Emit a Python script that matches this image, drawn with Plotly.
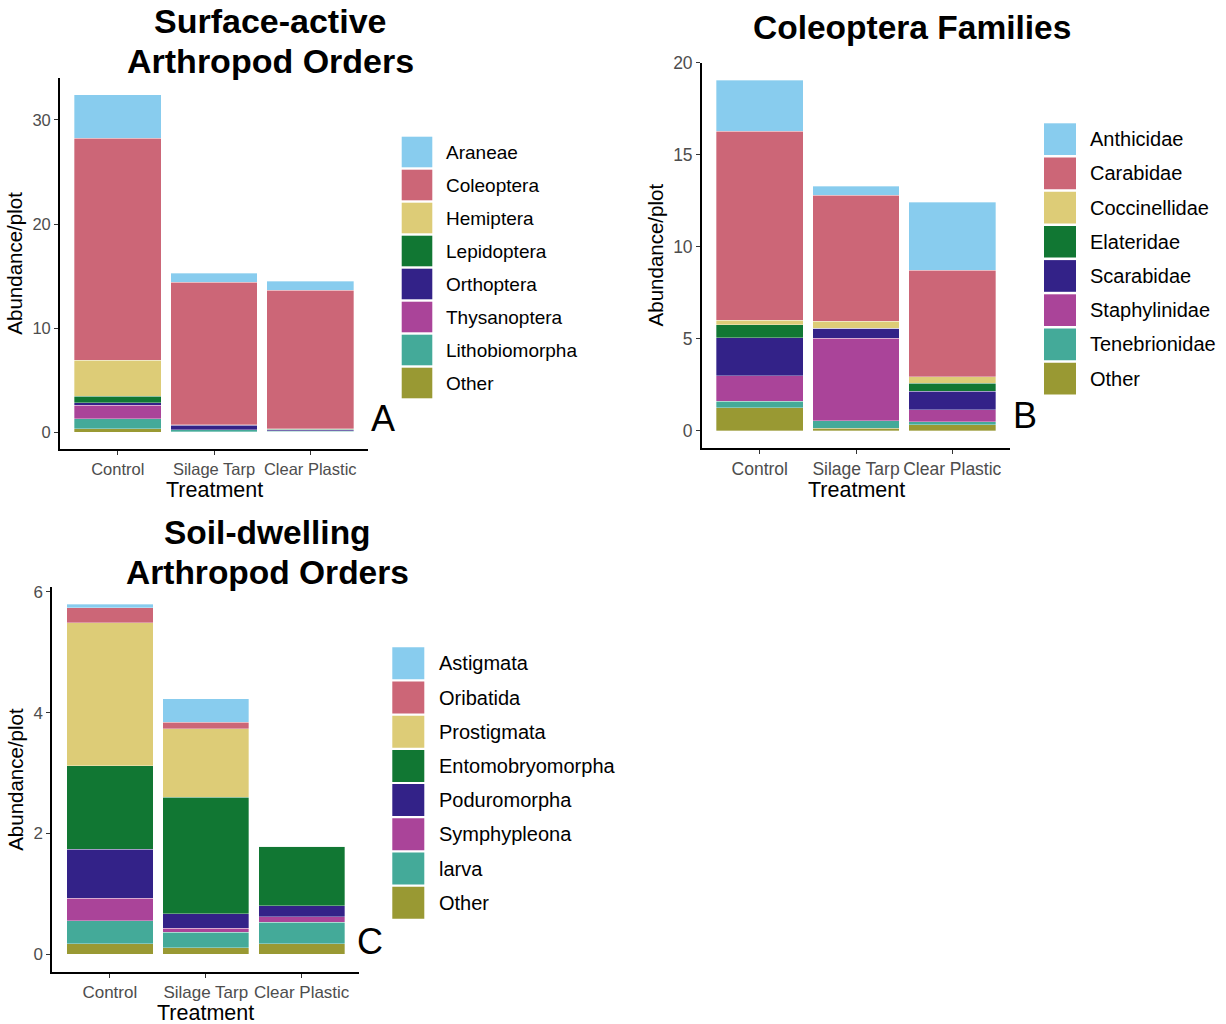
import plotly.graph_objects as go

W, H = 1226, 1024

treatments = ["Control", "Silage Tarp", "Clear Plastic"]

# Tol "muted" palette, shared by the three panels (top of stack first)
palette = ["#88CCEE", "#CC6677", "#DDCC77", "#117733",
           "#332288", "#AA4499", "#44AA99", "#999933"]

# --- A: surface-active arthropod orders (abundance per plot)
surface_groups = ["Araneae", "Coleoptera", "Hemiptera", "Lepidoptera",
                  "Orthoptera", "Thysanoptera", "Lithobiomorpha", "Other"]
araneae = [4.15, 0.87, 0.86]
coleoptera = [21.30, 13.66, 13.32]
hemiptera = [3.50, 0.00, 0.05]
lepidoptera = [0.58, 0.04, 0.05]
orthoptera = [0.28, 0.45, 0.10]
thysanoptera = [1.28, 0.00, 0.05]
lithobiomorpha = [0.96, 0.20, 0.05]
other_surface = [0.35, 0.05, 0.05]

# --- B: Coleoptera families
beetle_groups = ["Anthicidae", "Carabidae", "Coccinellidae", "Elateridae",
                 "Scarabidae", "Staphylinidae", "Tenebrionidae", "Other"]
anthicidae = [2.77, 0.50, 3.68]
carabidae = [10.29, 6.83, 5.79]
coccinellidae = [0.22, 0.38, 0.36]
elateridae = [0.72, 0.00, 0.44]
scarabidae = [2.06, 0.54, 1.00]
staphylinidae = [1.39, 4.49, 0.65]
tenebrionidae = [0.36, 0.39, 0.16]
other_beetle = [1.24, 0.15, 0.33]

# --- C: soil-dwelling arthropod orders
soil_groups = ["Astigmata", "Oribatida", "Prostigmata", "Entomobryomorpha",
               "Poduromorpha", "Symphypleona", "larva", "Other"]
astigmata = [0.05, 0.39, 0.00]
oribatida = [0.25, 0.11, 0.00]
prostigmata = [2.37, 1.13, 0.00]
entomobryomorpha = [1.38, 1.93, 0.99]
poduromorpha = [0.81, 0.24, 0.18]
symphypleona = [0.38, 0.07, 0.09]
larva = [0.38, 0.25, 0.36]
other_soil = [0.17, 0.11, 0.17]

panels = [
    dict(name="A", title=["Surface-active", "Arthropod Orders"],
         groups=surface_groups,
         series=[araneae, coleoptera, hemiptera, lepidoptera, orthoptera,
                 thysanoptera, lithobiomorpha, other_surface],
         ticks=[0, 10, 20, 30],
         box=(60, 368, 78, 449.3), title_y=[21, 61], title_x=270, title_size=34,
         legend=dict(x0=401.7, x1=432.3, top=136.7, step=33.0, key=30.6,
                     tx=444.3, size=19),
         letter=(383, 418), tick_size=16.5, ytitle_x=15, xtitle_y=490),
    dict(name="B", title=["Coleoptera Families"],
         groups=beetle_groups,
         series=[anthicidae, carabidae, coccinellidae, elateridae,
                 scarabidae, staphylinidae, tenebrionidae, other_beetle],
         ticks=[0, 5, 10, 15, 20],
         box=(702, 1010, 62.5, 448.3), title_y=[27], title_x=912, title_size=33.5,
         legend=dict(x0=1044, x1=1076, top=123.3, step=34.2, key=31.7,
                     tx=1088.3, size=20),
         letter=(1025, 415), tick_size=17.5, ytitle_x=655, xtitle_y=490),
    dict(name="C", title=["Soil-dwelling", "Arthropod Orders"],
         groups=soil_groups,
         series=[astigmata, oribatida, prostigmata, entomobryomorpha,
                 poduromorpha, symphypleona, larva, other_soil],
         ticks=[0, 2, 4, 6],
         box=(52.3, 359.2, 587, 971.7), title_y=[532, 572], title_x=267, title_size=33.5,
         legend=dict(x0=392.3, x1=424.3, top=647.3, step=34.2, key=32,
                     tx=436.7, size=20),
         letter=(370, 941), tick_size=17, ytitle_x=15.5, xtitle_y=1013),
]

FONT = "Liberation Sans, Arial, sans-serif"

fig = go.Figure()
shapes, annotations = [], []

def px(x):
    return x / W

def py(y):
    return 1 - y / H

for i, p in enumerate(panels, start=1):
    xa = "x" if i == 1 else f"x{i}"
    ya = "y" if i == 1 else f"y{i}"
    # stack from the bottom ("Other") upward
    for grp, vals, col in reversed(list(zip(p["groups"], p["series"], palette))):
        fig.add_trace(go.Bar(
            x=treatments, y=vals, name=grp, width=0.9,
            marker=dict(color=col, line=dict(color="rgba(255,255,255,0.55)", width=0.6)),
            xaxis=xa, yaxis=ya, showlegend=False,
        ))

    totals = [sum(v) for v in zip(*p["series"])]
    top = max(totals)
    pad = 0.05 * top
    x0, x1, ytop, ybot = p["box"]
    axis_common = dict(showline=True, linecolor="black", linewidth=1.8,
                       ticks="outside", ticklen=4, tickwidth=1.2, tickcolor="#333333",
                       showgrid=False, zeroline=False, automargin=False,
                       tickfont=dict(family=FONT, size=p["tick_size"], color="#4D4D4D"))
    fig.update_layout(**{
        ("xaxis" if i == 1 else f"xaxis{i}"): dict(
            domain=[px(x0), px(x1)], anchor=ya, range=[-0.6, 2.6],
            categoryorder="array", categoryarray=treatments, **axis_common),
        ("yaxis" if i == 1 else f"yaxis{i}"): dict(
            domain=[py(ybot), py(ytop)], anchor=xa, range=[-pad, top + pad],
            tickvals=p["ticks"], **axis_common),
    })

    # panel title
    for line, ty in zip(p["title"], p["title_y"]):
        annotations.append(dict(text=f"<b>{line}</b>", x=px(p["title_x"]), y=py(ty),
                                xref="paper", yref="paper", showarrow=False,
                                xanchor="center", yanchor="middle",
                                font=dict(family=FONT, size=p["title_size"], color="black")))
    # axis titles
    annotations.append(dict(text="Abundance/plot", x=px(p["ytitle_x"]), y=py((ytop + ybot) / 2),
                            xref="paper", yref="paper", showarrow=False, textangle=-90,
                            xanchor="center", yanchor="middle",
                            font=dict(family=FONT, size=20.5, color="black")))
    annotations.append(dict(text="Treatment", x=px((x0 + x1) / 2), y=py(p["xtitle_y"]),
                            xref="paper", yref="paper", showarrow=False,
                            xanchor="center", yanchor="middle",
                            font=dict(family=FONT, size=21.5, color="black")))
    # panel letter
    annotations.append(dict(text=p["name"], x=px(p["letter"][0]), y=py(p["letter"][1]),
                            xref="paper", yref="paper", showarrow=False,
                            xanchor="center", yanchor="middle",
                            font=dict(family=FONT, size=36, color="black")))
    # legend keys
    lg = p["legend"]
    for k, (grp, col) in enumerate(zip(p["groups"], palette)):
        t = lg["top"] + k * lg["step"]
        shapes.append(dict(type="rect", xref="paper", yref="paper",
                           x0=px(lg["x0"]), x1=px(lg["x1"]),
                           y0=py(t + lg["key"]), y1=py(t),
                           fillcolor=col, line=dict(width=0)))
        annotations.append(dict(text=grp, x=px(lg["tx"]), y=py(t + lg["key"] / 2),
                                xref="paper", yref="paper", showarrow=False,
                                xanchor="left", yanchor="middle",
                                font=dict(family=FONT, size=lg["size"], color="black")))

fig.update_layout(
    width=W, height=H, margin=dict(l=0, r=0, t=0, b=0, pad=0, autoexpand=False),
    barmode="stack", bargap=0.1,
    paper_bgcolor="white", plot_bgcolor="white",
    shapes=shapes, annotations=annotations,
    font=dict(family=FONT),
)

fig.write_html("out.html")
